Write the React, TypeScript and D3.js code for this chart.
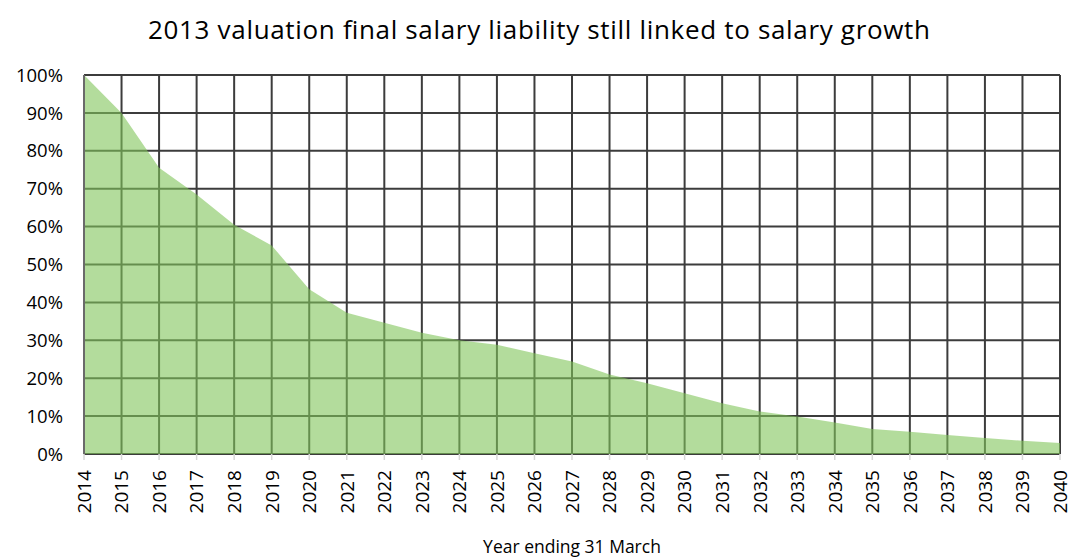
import React from "react";
import * as d3 from "d3";

const years: number[] = [2014, 2015, 2016, 2017, 2018, 2019, 2020, 2021, 2022, 2023, 2024, 2025, 2026, 2027, 2028, 2029, 2030, 2031, 2032, 2033, 2034, 2035, 2036, 2037, 2038, 2039, 2040];
const linkedShare: number[] = [1.0, 0.90, 0.755, 0.685, 0.605, 0.55, 0.435, 0.373, 0.346, 0.32, 0.30, 0.288, 0.266, 0.244, 0.21, 0.187, 0.16, 0.134, 0.112, 0.099, 0.083, 0.066, 0.059, 0.05, 0.042, 0.035, 0.029];
const yTicks: number[] = [0, 0.1, 0.2, 0.3, 0.4, 0.5, 0.6, 0.7, 0.8, 0.9, 1.0];
const title = "2013 valuation final salary liability still linked to salary growth";
const xTitle = "Year ending 31 March";

const W = 1072;
const H = 559;
const M = { left: 84, right: 1060, top: 75, bottom: 454 };
const FONT = "'Open Sans', 'Liberation Sans', sans-serif";

export default function App() {
  const x = d3.scaleLinear().domain([years[0], years[years.length - 1]]).range([M.left, M.right]);
  const y = d3.scaleLinear().domain([0, 1]).range([M.bottom, M.top]);
  const data = years.map((yr, i) => ({ yr, v: linkedShare[i] }));
  const area = d3
    .area<{ yr: number; v: number }>()
    .x((d) => x(d.yr))
    .y0(y(0))
    .y1((d) => y(d.v));
  const fmt = d3.format(".0%");

  return (
    <svg width={W} height={H} style={{ position: "absolute", left: 0, top: 0, background: "#fff" }}>
      <rect x={0} y={0} width={W} height={H} fill="#fff" />
      <text x={539} y={39} textAnchor="middle" fontFamily={FONT} fontSize={26} fill="#000" textLength={782} lengthAdjust="spacing">
        {title}
      </text>
      {/* grid */}
      {yTicks.map((t) => (
        <line key={"h" + t} x1={M.left} x2={M.right} y1={y(t)} y2={y(t)} stroke="#3c3c3c" strokeWidth={2} />
      ))}
      {years.map((yr) => (
        <line key={"v" + yr} x1={x(yr)} x2={x(yr)} y1={M.top} y2={M.bottom} stroke="#3c3c3c" strokeWidth={2} />
      ))}
      {/* ticks below axis */}
      {years.map((yr) => (
        <line key={"t" + yr} x1={x(yr)} x2={x(yr)} y1={M.bottom} y2={M.bottom + 6} stroke="#d9d9d9" strokeWidth={1.5} />
      ))}
      <path d={area(data) || ""} fill="#80c55a" fillOpacity={0.6} />
      <line x1={M.left} x2={M.left} y1={M.top} y2={M.bottom} stroke="#6a6a6a" strokeWidth={2} />
      {/* y labels */}
      {yTicks.map((t) => (
        <text key={"yl" + t} x={63} y={y(t)} dy="0.36em" textAnchor="end" fontFamily={FONT} fontSize={18.5} fill="#000">
          {fmt(t)}
        </text>
      ))}
      {/* x labels */}
      {years.map((yr) => (
        <text
          key={"xl" + yr}
          transform={`translate(${x(yr)},${M.bottom + 16}) rotate(-90)`}
          textAnchor="end"
          dy="0.36em"
          fontFamily={FONT}
          fontSize={19}
          fill="#000"
        >
          {yr}
        </text>
      ))}
      <text x={572} y={553} textAnchor="middle" fontFamily={FONT} fontSize={17.5} fill="#000">
        {xTitle}
      </text>
    </svg>
  );
}
